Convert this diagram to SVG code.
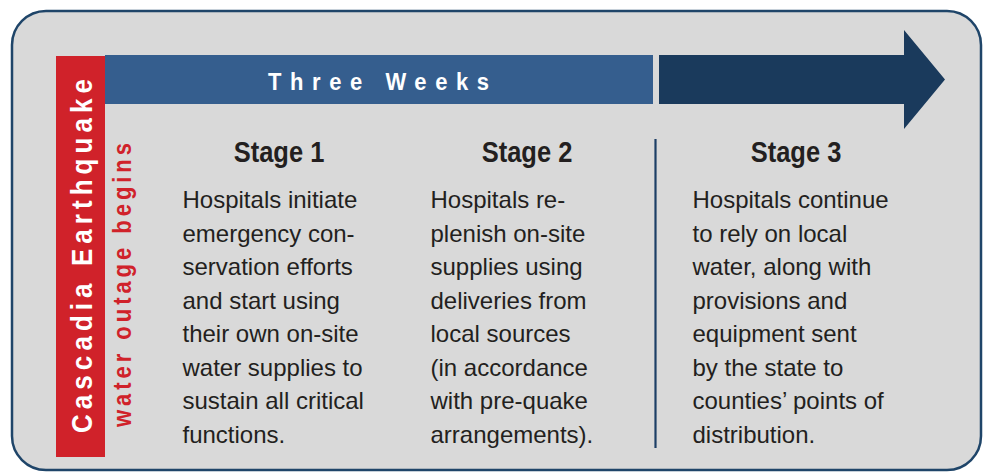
<svg xmlns="http://www.w3.org/2000/svg" width="984" height="472" viewBox="0 0 984 472">
<style>
.body{font-family:"Liberation Sans",Arial,sans-serif;font-size:24px;fill:#231f20}
.head{font-family:"Liberation Sans",Arial,sans-serif;font-size:25.5px;font-weight:bold;fill:#231f20;text-anchor:middle}
.spaced{font-family:"Liberation Sans",Arial,sans-serif;font-weight:bold}
</style>
<rect width="984" height="472" fill="#ffffff"/>
<g id="frame">
<rect x="12" y="11" width="969" height="459" rx="34" ry="34" fill="#d9d9d9" stroke="#1f4569" stroke-width="2.5"/>
</g>
<g id="connectors">
<polygon points="659,55 904,55 904,30 945,79.5 904,129 904,104 659,104" fill="#1a3a5c"/>
<line x1="655.5" y1="139" x2="655.5" y2="448" stroke="#1d3f66" stroke-width="2.2"/>
</g>
<g id="timeline">
<rect x="105" y="55" width="548" height="49" fill="#355e8e"/>
<text class="spaced" transform="translate(268,89.5) scale(1,1.08)" x="0" y="0" font-size="22" fill="#ffffff" textLength="221" lengthAdjust="spacing">Three Weeks</text>
</g>
<g id="quake">
<rect x="56" y="56" width="49" height="401" fill="#d0222a"/>
<text class="spaced" transform="translate(91.5,433) rotate(-90) scale(1,1.1)" x="0" y="0" font-size="26" fill="#ffffff" textLength="354" lengthAdjust="spacing">Cascadia Earthquake</text>
<text class="spaced" transform="translate(130.5,427) rotate(-90) scale(1,1.15)" x="0" y="0" font-size="22" fill="#d0222a" textLength="284" lengthAdjust="spacing">water outage begins</text>
</g>
<g id="stage1">
<text class="head" transform="translate(279,162) scale(1,1.15)" x="0" y="0">Stage 1</text>
<text class="body" x="182.5" y="208.3">Hospitals initiate</text>
<text class="body" x="182.5" y="241.8">emergency con-</text>
<text class="body" x="182.5" y="275.3">servation efforts</text>
<text class="body" x="182.5" y="308.8">and start using</text>
<text class="body" x="182.5" y="342.3">their own on-site</text>
<text class="body" x="182.5" y="375.8">water supplies to</text>
<text class="body" x="182.5" y="409.3">sustain all critical</text>
<text class="body" x="182.5" y="442.8">functions.</text>
</g>
<g id="stage2">
<text class="head" transform="translate(527,162) scale(1,1.15)" x="0" y="0">Stage 2</text>
<text class="body" x="430.5" y="208.3">Hospitals re-</text>
<text class="body" x="430.5" y="241.8">plenish on-site</text>
<text class="body" x="430.5" y="275.3">supplies using</text>
<text class="body" x="430.5" y="308.8">deliveries from</text>
<text class="body" x="430.5" y="342.3">local sources</text>
<text class="body" x="430.5" y="375.8">(in accordance</text>
<text class="body" x="430.5" y="409.3">with pre-quake</text>
<text class="body" x="430.5" y="442.8">arrangements).</text>
</g>
<g id="stage3">
<text class="head" transform="translate(796,162) scale(1,1.15)" x="0" y="0">Stage 3</text>
<text class="body" x="692.5" y="208.3">Hospitals continue</text>
<text class="body" x="692.5" y="241.8">to rely on local</text>
<text class="body" x="692.5" y="275.3">water, along with</text>
<text class="body" x="692.5" y="308.8">provisions and</text>
<text class="body" x="692.5" y="342.3">equipment sent</text>
<text class="body" x="692.5" y="375.8">by the state to</text>
<text class="body" x="692.5" y="409.3">counties’ points of</text>
<text class="body" x="692.5" y="442.8">distribution.</text>
</g>
</svg>
